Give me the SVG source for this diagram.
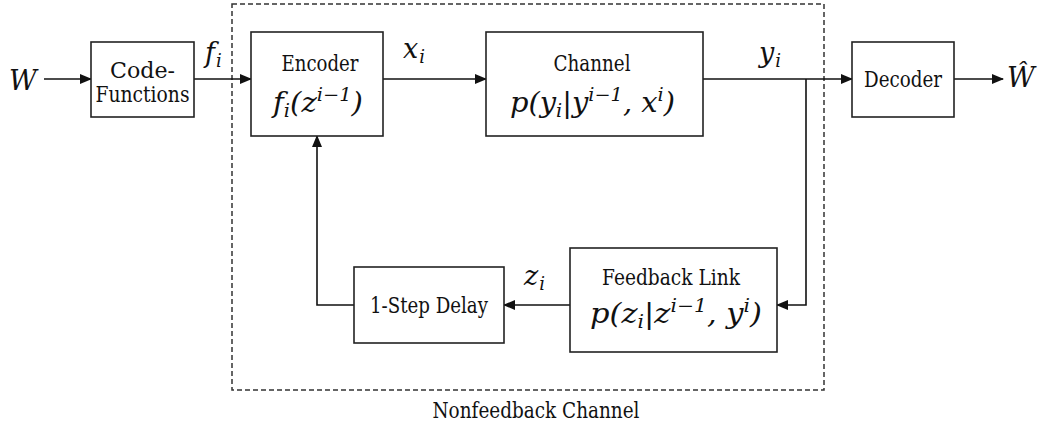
<svg xmlns="http://www.w3.org/2000/svg" width="1045" height="428" viewBox="0 0 1045 428">
<style>
.box{fill:#fff;stroke:#222;stroke-width:1.6}
.ln{fill:none;stroke:#111;stroke-width:1.6}
text{font-family:"DejaVu Serif","Liberation Serif",serif}
.t{font-size:21.5px;fill:#111;text-anchor:middle}
.m{font-style:italic;font-size:27px;fill:#111}
.s{font-size:18px}
</style>
<defs>
<marker id="ah" markerWidth="12" markerHeight="10" refX="11" refY="5" orient="auto" markerUnits="userSpaceOnUse">
<path d="M0,0 L12,5 L0,10 z" fill="#111"/>
</marker>
</defs>
<rect x="232" y="4" width="592" height="386" fill="none" stroke="#333" stroke-width="1.5" stroke-dasharray="5,3"/>
<text class="t" x="536" y="418" textLength="207" lengthAdjust="spacingAndGlyphs">Nonfeedback Channel</text>
<g id="connectors">
<line class="ln" x1="44" y1="79" x2="91" y2="79" marker-end="url(#ah)"/>
<line class="ln" x1="194" y1="79" x2="251" y2="79" marker-end="url(#ah)"/>
<line class="ln" x1="383" y1="79" x2="486" y2="79" marker-end="url(#ah)"/>
<line class="ln" x1="703" y1="79" x2="852" y2="79" marker-end="url(#ah)"/>
<line class="ln" x1="954" y1="79" x2="1003" y2="79" marker-end="url(#ah)"/>
<polyline class="ln" points="806,79 806,305 777,305" marker-end="url(#ah)"/>
<line class="ln" x1="570" y1="305" x2="504" y2="305" marker-end="url(#ah)"/>
<polyline class="ln" points="354,305 317,305 317,136" marker-end="url(#ah)"/>
<text class="m" x="205" y="62">f<tspan class="s" dx="1" dy="5">i</tspan></text>
<text class="m" x="403" y="58">x<tspan class="s" dx="1" dy="5">i</tspan></text>
<text class="m" x="759" y="62">y<tspan class="s" dx="1" dy="5">i</tspan></text>
<text class="m" x="524" y="285">z<tspan class="s" dx="1" dy="5">i</tspan></text>
</g>
<g id="source"><text class="m" x="9" y="90" font-size="29">W</text></g>
<g id="code-functions">
<rect class="box" x="91" y="42" width="103" height="75"/>
<text class="t" x="142.5" y="78" textLength="65" lengthAdjust="spacingAndGlyphs">Code-</text>
<text class="t" x="142.5" y="102" textLength="94" lengthAdjust="spacingAndGlyphs">Functions</text>
</g>
<g id="encoder">
<rect class="box" x="251" y="32" width="132" height="104"/>
<text class="t" x="320" y="71" textLength="77" lengthAdjust="spacingAndGlyphs">Encoder</text>
<text class="m" x="273" y="112" textLength="90" lengthAdjust="spacingAndGlyphs">f<tspan class="s" dy="5">i</tspan><tspan dy="-5">(z</tspan><tspan class="s" dy="-11">i−1</tspan><tspan dy="11">)</tspan></text>
</g>
<g id="channel">
<rect class="box" x="486" y="32" width="217" height="104"/>
<text class="t" x="592" y="71" textLength="77" lengthAdjust="spacingAndGlyphs">Channel</text>
<text class="m" x="510" y="112" textLength="165" lengthAdjust="spacingAndGlyphs">p(y<tspan class="s" dy="5">i</tspan><tspan dy="-5">|y</tspan><tspan class="s" dy="-11">i−1</tspan><tspan dy="11">, x</tspan><tspan class="s" dy="-11">i</tspan><tspan dy="11">)</tspan></text>
</g>
<g id="decoder">
<rect class="box" x="852" y="42" width="102" height="75"/>
<text class="t" x="903" y="87" textLength="78" lengthAdjust="spacingAndGlyphs">Decoder</text>
</g>
<g id="estimate"><text class="m" x="1007" y="87" font-size="29">Ŵ</text></g>
<g id="feedback-link">
<rect class="box" x="570" y="248" width="207" height="104"/>
<text class="t" x="671" y="285" textLength="138" lengthAdjust="spacingAndGlyphs">Feedback Link</text>
<text class="m" x="590" y="323" textLength="172" lengthAdjust="spacingAndGlyphs">p(z<tspan class="s" dy="5">i</tspan><tspan dy="-5">|z</tspan><tspan class="s" dy="-11">i−1</tspan><tspan dy="11">, y</tspan><tspan class="s" dy="-11">i</tspan><tspan dy="11">)</tspan></text>
</g>
<g id="delay">
<rect class="box" x="354" y="267" width="150" height="76"/>
<text class="t" x="429" y="313" textLength="118" lengthAdjust="spacingAndGlyphs">1-Step Delay</text>
</g>
</svg>
